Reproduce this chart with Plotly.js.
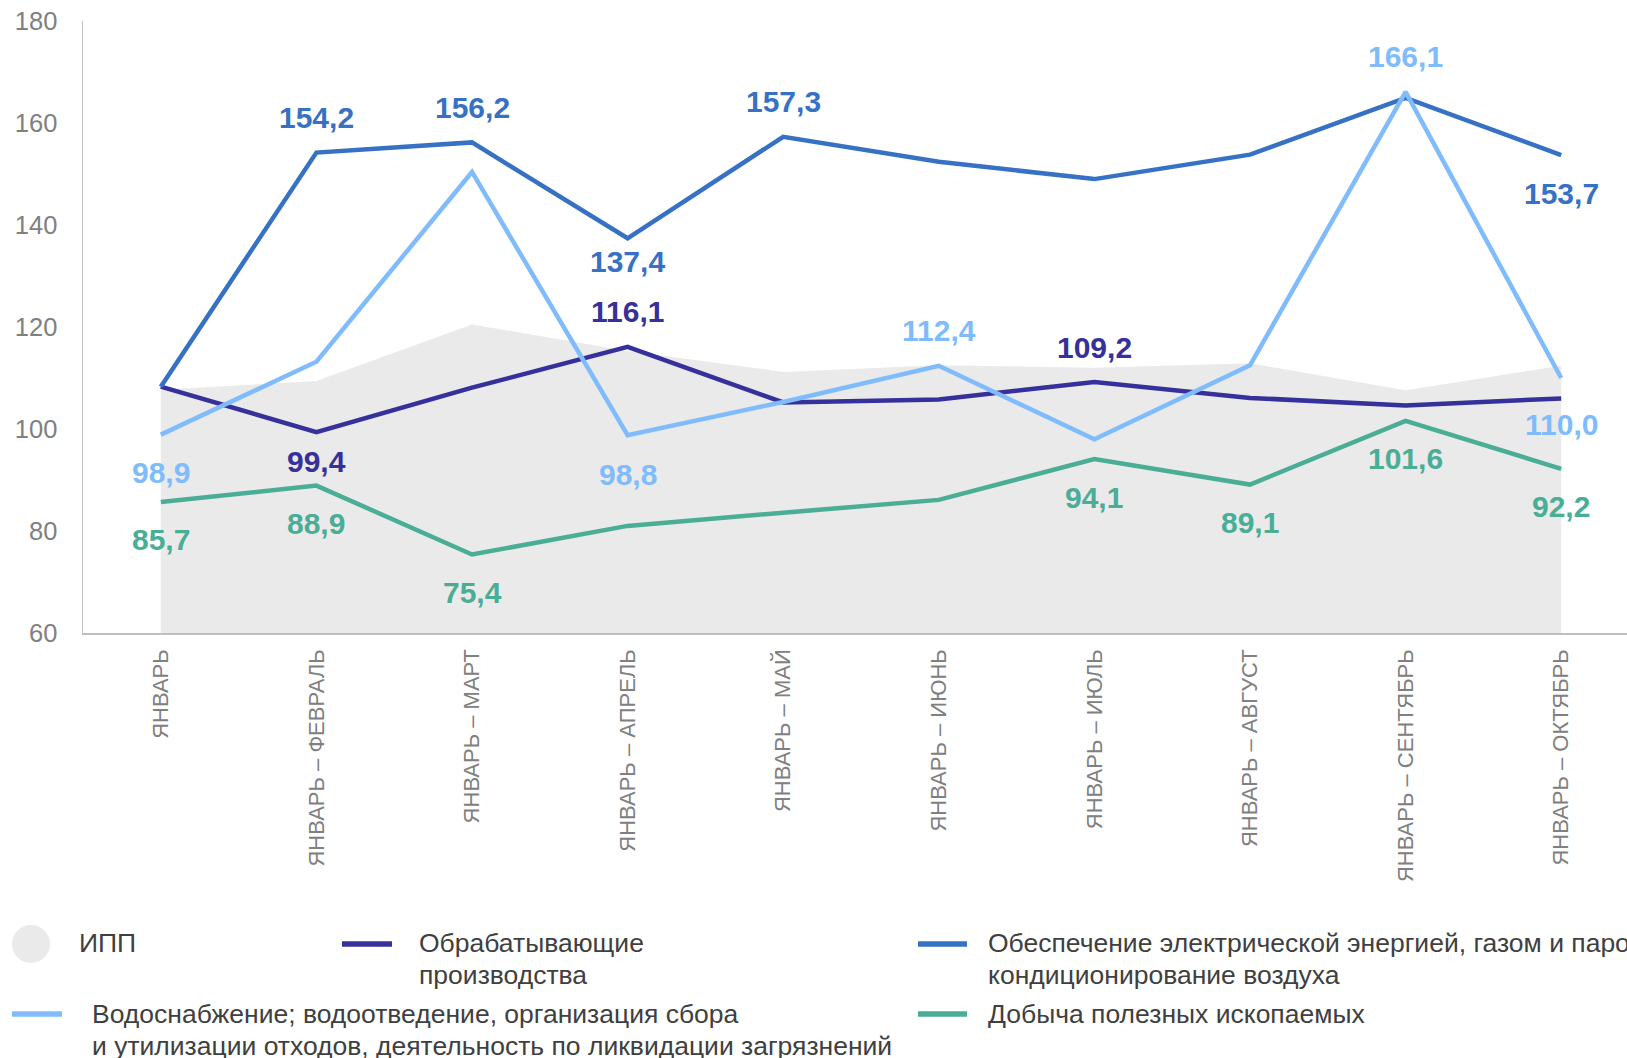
<!DOCTYPE html>
<html>
<head>
<meta charset="utf-8">
<script src="https://cdn.plot.ly/plotly-3.0.1.min.js"></script>
<style>html,body{margin:0;padding:0;background:#fff;}#chart{width:1627px;height:1058px;}</style>
</head>
<body>
<div id="chart"></div>
<script>
// ---- data ----
const categories = ['ЯНВАРЬ','ЯНВАРЬ – ФЕВРАЛЬ','ЯНВАРЬ – МАРТ','ЯНВАРЬ – АПРЕЛЬ','ЯНВАРЬ – МАЙ','ЯНВАРЬ – ИЮНЬ','ЯНВАРЬ – ИЮЛЬ','ЯНВАРЬ – АВГУСТ','ЯНВАРЬ – СЕНТЯБРЬ','ЯНВАРЬ – ОКТЯБРЬ'];
const ipp    = [107.7, 109.4, 120.5, 115.3, 111.2, 112.5, 112.0, 112.9, 107.6, 112.4];
const obrab  = [108.3, 99.4, 108.1, 116.1, 105.2, 105.8, 109.2, 106.1, 104.6, 106.0];
const energy = [108.3, 154.2, 156.2, 137.4, 157.3, 152.4, 149.0, 153.8, 164.9, 153.7];
const water  = [98.9, 113.2, 150.4, 98.8, 105.3, 112.4, 98.0, 112.5, 166.1, 110.0];
const mining = [85.7, 88.9, 75.4, 81.0, 83.6, 86.1, 94.1, 89.1, 101.6, 92.2];
const yTicks = [60, 80, 100, 120, 140, 160, 180];
const legendLines = {
  ipp: ['ИПП'],
  obrab: ['Обрабатывающие', 'производства'],
  energy: ['Обеспечение электрической энергией, газом и паром;', 'кондиционирование воздуха'],
  water: ['Водоснабжение; водоотведение, организация сбора', 'и утилизации отходов, деятельность по ликвидации загрязнений'],
  mining: ['Добыча полезных ископаемых']
};

// ---- styles ----
const C = {ipp:'#EAEAEA', obrab:'#36309A', energy:'#3671C4', water:'#80BCFC', mining:'#4AAD96'};
const FONT = '"Liberation Sans", Arial, sans-serif';
const LW = 4.5;

// which data points carry a value label, and the pixel shift of the label (+ up, - down)
const labelPlacement = [
  ['energy', 1, 35], ['energy', 2, 35], ['energy', 3, -23], ['energy', 4, 35], ['energy', 9, -38],
  ['water', 0, -38], ['water', 3, -39], ['water', 5, 35], ['water', 8, 35], ['water', 9, -46],
  ['obrab', 1, -29], ['obrab', 3, 35], ['obrab', 6, 35],
  ['mining', 0, -38], ['mining', 1, -38], ['mining', 2, -38], ['mining', 6, -38], ['mining', 7, -38], ['mining', 8, -38], ['mining', 9, -38]
];
const series = {ipp, obrab, energy, water, mining};

const traces = [
  {type:'scatter', mode:'lines', x:categories, y:ipp, fill:'tozeroy', fillcolor:C.ipp, line:{width:0, color:C.ipp}, name:'ИПП', hoverinfo:'skip'},
  {type:'scatter', mode:'lines', x:categories, y:obrab, line:{width:LW, color:C.obrab}, name:'Обрабатывающие производства'},
  {type:'scatter', mode:'lines', x:categories, y:energy, line:{width:LW, color:C.energy}, name:'Обеспечение'},
  {type:'scatter', mode:'lines', x:categories, y:mining, line:{width:LW, color:C.mining}, name:'Добыча'},
  {type:'scatter', mode:'lines', x:categories, y:water, line:{width:LW, color:C.water}, name:'Водоснабжение'}
];

const fmt = v => v.toFixed(1).replace('.', ',');
const annotations = labelPlacement.map(([s, i, shift]) => ({
  x: categories[i], y: series[s][i], xref:'x', yref:'y', yshift: shift,
  text: fmt(series[s][i]), showarrow:false, xanchor:'center', yanchor:'middle',
  font:{family:FONT, size:30, weight:700, color:C[s]}
}));

// plot area geometry (px)
const L = 83, T = 21, W = 1627 - 83, H = 633 - 21;
const px = p => (p - L) / W;
const py = p => (T + H - p) / H;

const legendFont = {family:FONT, size:26.5, color:'#404040'};
const LINE_GAP = 32;
const legendItems = [
  {key:'ipp', tx:77, ty:943},
  {key:'obrab', tx:417, ty:943},
  {key:'energy', tx:986, ty:943},
  {key:'water', tx:90, ty:1014},
  {key:'mining', tx:986, ty:1014}
];
legendItems.forEach(it => legendLines[it.key].forEach((line, k) => annotations.push({
  xref:'paper', yref:'paper', x:px(it.tx), y:py(it.ty + k * LINE_GAP), text:line,
  showarrow:false, xanchor:'left', yanchor:'middle', align:'left', font:legendFont
})));

const shapes = [
  {type:'circle', xref:'paper', yref:'paper', x0:px(12), x1:px(50), y0:py(963), y1:py(925), fillcolor:C.ipp, line:{width:0}},
  {type:'line', xref:'paper', yref:'paper', x0:px(342), x1:px(392), y0:py(944), y1:py(944), line:{color:C.obrab, width:5.5}},
  {type:'line', xref:'paper', yref:'paper', x0:px(918), x1:px(967), y0:py(944), y1:py(944), line:{color:C.energy, width:5.5}},
  {type:'line', xref:'paper', yref:'paper', x0:px(12), x1:px(62), y0:py(1014), y1:py(1014), line:{color:C.water, width:5.5}},
  {type:'line', xref:'paper', yref:'paper', x0:px(918), x1:px(967), y0:py(1014), y1:py(1014), line:{color:C.mining, width:5.5}}
];

const layout = {
  width:1627, height:1058,
  margin:{l:L, r:0, t:T, b:1058-633, pad:0},
  paper_bgcolor:'#fff', plot_bgcolor:'#fff',
  showlegend:false, hovermode:false,
  xaxis:{type:'category', range:[-0.5, -0.5 + W/155.6], showgrid:false, zeroline:false,
         showline:true, linecolor:'#BFBFBF', linewidth:1.5, ticks:'', tickangle:-90,
         ticklabelstandoff:6, tickfont:{family:FONT, size:22, color:'#808080'}, automargin:false},
  yaxis:{range:[60,180], tickvals:yTicks, showgrid:false, zeroline:false,
         showline:true, linecolor:'#BFBFBF', linewidth:1.5, ticks:'',
         ticklabelstandoff:19, tickfont:{family:FONT, size:25.5, color:'#808080'}, automargin:false},
  annotations, shapes
};

Plotly.newPlot('chart', traces, layout, {displayModeBar:false, staticPlot:true});
</script>
</body>
</html>
